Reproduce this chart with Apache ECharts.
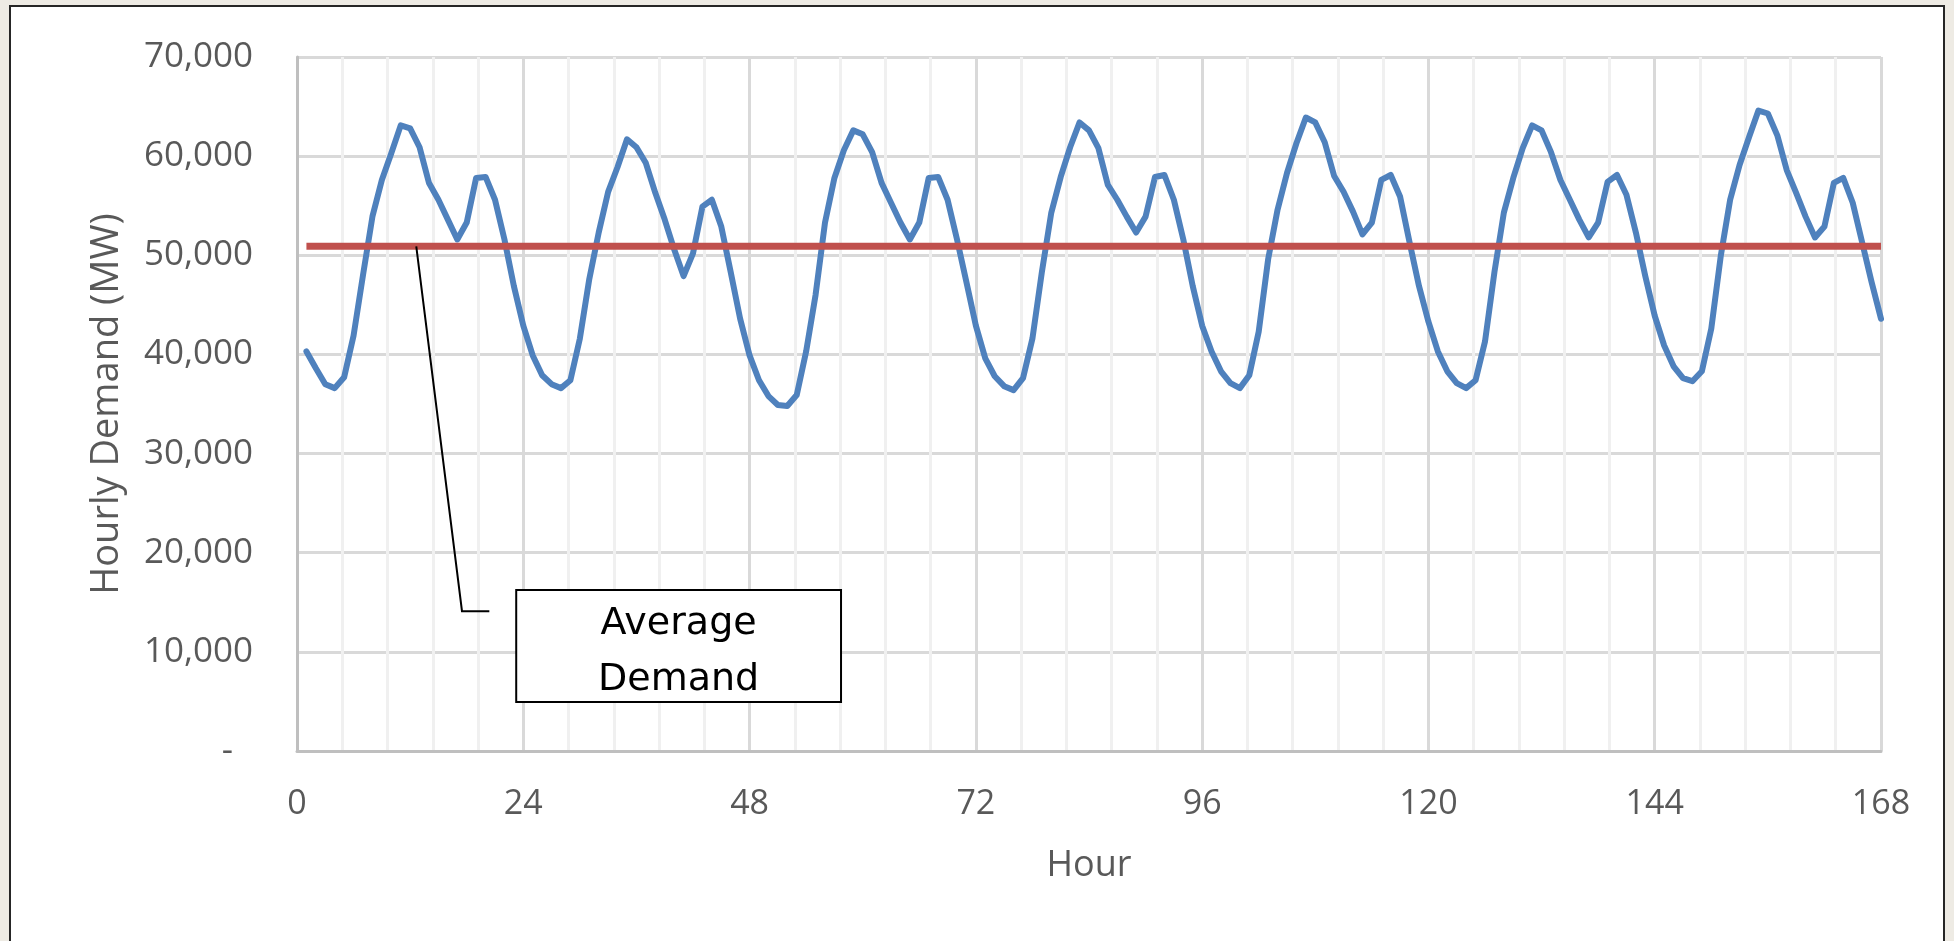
<!DOCTYPE html>
<html>
<head>
<meta charset="utf-8">
<script src="https://cdn.jsdelivr.net/npm/echarts@6.0.0/dist/echarts.min.js"></script>
<style>
html,body{margin:0;padding:0;background:#EEEBE4;overflow:hidden;}
#c{width:1954px;height:941px;}
</style>
</head>
<body>
<div id="c"></div>
<script>
// ---- data ----
const yTickValues = [0, 10000, 20000, 30000, 40000, 50000, 60000, 70000];
const xTickValues = [0, 24, 48, 72, 96, 120, 144, 168];
const firstHour = 1;
const demand = [
  40300, 38600, 37000, 36600, 37700, 41900, 48000, 53900, 57600, 60300, 63100, 62800,
  60900, 57300, 55600, 53600, 51600, 53300, 57800, 57900, 55600, 51600, 46900, 42900,
  39900, 37900, 37000, 36600, 37400, 41600, 47600, 52300, 56400, 58900, 61700, 60900,
  59300, 56300, 53600, 50600, 47900, 50200, 54900, 55600, 52900, 48300, 43600, 39900,
  37400, 35800, 34900, 34800, 35900, 40300, 46000, 53300, 57800, 60600, 62600, 62200,
  60400, 57300, 55300, 53300, 51600, 53300, 57800, 57900, 55600, 51600, 47300, 42900,
  39600, 37800, 36800, 36400, 37600, 41600, 48300, 54300, 57900, 60900, 63400, 62600,
  60800, 57100, 55600, 53900, 52300, 53900, 57900, 58100, 55600, 51600, 46900, 42900,
  40300, 38300, 37100, 36600, 37900, 42300, 49600, 54600, 58300, 61300, 63900, 63400,
  61400, 58000, 56400, 54400, 52100, 53300, 57600, 58100, 55900, 51300, 46900, 43300,
  40300, 38300, 37100, 36600, 37400, 41300, 48300, 54300, 57800, 60800, 63100, 62600,
  60400, 57600, 55600, 53600, 51800, 53300, 57400, 58100, 56100, 52300, 47900, 43900,
  40900, 38800, 37600, 37300, 38300, 42600, 49900, 55600, 59100, 61900, 64600, 64300,
  62100, 58600, 56300, 53900, 51800, 52900, 57300, 57800, 55300, 51300, 47300, 43600
];
const averageDemand = 50900;
const xAxisTitle = 'Hour';
const yAxisTitle = 'Hourly Demand (MW)';
const calloutLines = ['Average', 'Demand'];

// ---- build series tables from the arrays ----
const demandPoints = demand.map((v, i) => [firstHour + i, v]);
const lastHour = firstHour + demand.length - 1;
const averagePoints = [[firstHour, averageDemand], [lastHour, averageDemand]];

const TXT = '#595959';
const FONT = 'Open Sans';

function fmtThousands(v) {
  if (v === 0) return '{z|-}';
  return String(v).replace(/\B(?=(\d{3})+(?!\d))/g, ',');
}

const chart = echarts.init(document.getElementById('c'), null, {renderer: 'canvas'});

const option = {
  backgroundColor: '#EEEBE4',
  animation: false,
  grid: {left: 297, right: 73, top: 57, bottom: 190, containLabel: false},
  xAxis: {
    type: 'value',
    min: xTickValues[0],
    max: xTickValues[xTickValues.length - 1],
    interval: xTickValues[1] - xTickValues[0],
    name: xAxisTitle,
    nameLocation: 'middle',
    nameGap: 95,
    nameTextStyle: {color: TXT, fontFamily: FONT, fontSize: 36, lineHeight: 40},
    axisLine: {show: true, lineStyle: {color: '#BFBFBF', width: 3}},
    axisTick: {show: false},
    minorTick: {show: false, splitNumber: 5},
    axisLabel: {color: TXT, fontFamily: FONT, fontSize: 34, lineHeight: 40, margin: 33},
    splitLine: {show: true, lineStyle: {color: '#D9D9D9', width: 3}},
    minorSplitLine: {show: true, lineStyle: {color: '#F0F0F0', width: 3}}
  },
  yAxis: {
    type: 'value',
    min: yTickValues[0],
    max: yTickValues[yTickValues.length - 1],
    interval: yTickValues[1] - yTickValues[0],
    name: yAxisTitle,
    nameLocation: 'middle',
    nameRotate: 90,
    nameGap: 170,
    nameTextStyle: {color: TXT, fontFamily: FONT, fontSize: 38, lineHeight: 40},
    axisLine: {show: true, lineStyle: {color: '#BFBFBF', width: 3}},
    axisTick: {show: false},
    axisLabel: {
      color: TXT, fontFamily: FONT, fontSize: 35, margin: 44,
      formatter: fmtThousands,
      rich: {z: {color: TXT, fontFamily: FONT, fontSize: 35, padding: [0, 20, 0, 0]}}
    },
    splitLine: {show: true, lineStyle: {color: '#D9D9D9', width: 3}}
  },
  series: [
    {
      type: 'line', name: 'Hourly Demand', data: demandPoints,
      showSymbol: false, symbol: 'none', smooth: false,
      lineStyle: {color: '#4F81BD', width: 6, join: 'round', cap: 'round'},
      z: 3
    },
    {
      type: 'line', name: 'Average Demand', data: averagePoints,
      showSymbol: false, symbol: 'none',
      lineStyle: {color: '#C0504D', width: 7},
      z: 4
    }
  ]
};
chart.setOption(option);

// ---- callout, placed in data coordinates ----
const callout = {
  anchor: [12.65, averageDemand],
  elbow: [17.5, 14100],
  end: [20.4, 14100],
  boxTopLeft: [23.25, 16250],
  boxBottomRight: [57.7, 4950]
};
const px = p => chart.convertToPixel({xAxisIndex: 0, yAxisIndex: 0}, p);
const a = px(callout.anchor), e = px(callout.elbow), f = px(callout.end);
const b1 = px(callout.boxTopLeft), b2 = px(callout.boxBottomRight);

chart.setOption({
  graphic: [
    {
      type: 'rect', id: 'frame', z: -100, zlevel: 0, silent: true,
      shape: {x: 10, y: 6, width: 1934, height: 960},
      style: {fill: '#FFFFFF', stroke: '#262626', lineWidth: 2}
    },
    {
      type: 'polyline', id: 'leader', z: 100, silent: true,
      shape: {points: [a, e, f]},
      style: {stroke: '#000000', lineWidth: 2, fill: null}
    },
    {
      type: 'rect', id: 'box', z: 100, silent: true,
      shape: {x: b1[0], y: b1[1], width: b2[0] - b1[0], height: b2[1] - b1[1]},
      style: {fill: '#FFFFFF', stroke: '#000000', lineWidth: 2}
    },
    {
      type: 'text', id: 'boxText', z: 101, silent: true,
      x: (b1[0] + b2[0]) / 2, y: (b1[1] + b2[1]) / 2 + 6,
      style: {
        text: calloutLines.join('\n'),
        fill: '#000000', font: '38px "DejaVu Sans"', lineHeight: 56,
        align: 'center', verticalAlign: 'middle'
      }
    }
  ]
});
</script>
</body>
</html>
